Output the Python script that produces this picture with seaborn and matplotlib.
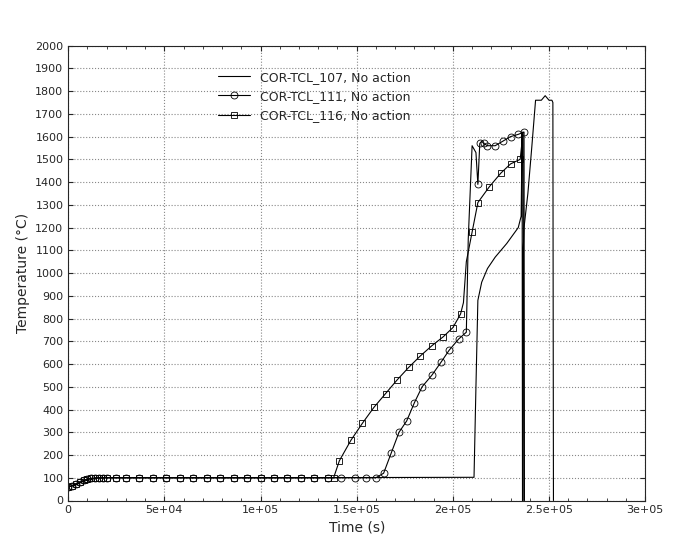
import numpy as np
import matplotlib
matplotlib.use("Agg")
import matplotlib.pyplot as plt
import seaborn as sns
from matplotlib.ticker import MultipleLocator

# COR-TCL_107 (no markers)
t107 = [0, 3000, 8000, 15000, 20000, 100000, 211000, 212000, 213000, 215000, 218000, 222000, 228000, 234000, 235500, 236000, 236200, 236400, 236600, 237000, 239000, 241000, 243000, 246000, 248000, 250000, 251500, 252000, 252300]
v107 = [60, 65, 85, 98, 100, 100, 102, 500, 880, 960, 1020, 1070, 1130, 1200, 1250, 1620, 0, 0, 1100, 1200, 1350, 1550, 1760, 1760, 1780, 1760, 1760, 1750, 0]

# COR-TCL_111 (circles)
t111 = [0, 2000, 4000, 6000, 8000, 10000, 12000, 14000, 16000, 18000, 20000, 25000, 30000, 37000, 44000, 51000, 58000, 65000, 72000, 79000, 86000, 93000, 100000, 107000, 114000, 121000, 128000, 135000, 142000, 149000, 155000, 160000, 164000, 168000, 172000, 176000, 180000, 184000, 189000, 194000, 198000, 203000, 207000, 208000, 210000, 212000, 213000, 214000, 215000, 216000, 218000, 222000, 226000, 230000, 234000, 237000, 237200]
v111 = [60, 65, 72, 80, 88, 94, 97, 99, 100, 100, 100, 100, 100, 100, 100, 100, 100, 100, 100, 100, 100, 100, 100, 100, 100, 100, 100, 100, 100, 100, 100, 100, 120, 210, 300, 350, 430, 500, 550, 610, 660, 710, 740, 1150, 1560, 1530, 1390, 1570, 1580, 1570, 1560, 1560, 1580, 1600, 1610, 1620, 0]
m111 = [i for i, t in enumerate(t111) if t not in (208000, 210000, 212000, 215000, 237200)]

# COR-TCL_116 (squares)
t116 = [0, 2000, 4000, 6000, 8000, 10000, 12000, 14000, 16000, 18000, 20000, 25000, 30000, 37000, 44000, 51000, 58000, 65000, 72000, 79000, 86000, 93000, 100000, 107000, 114000, 121000, 128000, 135000, 138000, 141000, 147000, 153000, 159000, 165000, 171000, 177000, 183000, 189000, 195000, 200000, 204000, 205500, 207000, 210000, 213000, 219000, 225000, 230000, 235000, 236500, 237000]
v116 = [60, 65, 72, 80, 88, 94, 97, 99, 100, 100, 100, 100, 100, 100, 100, 100, 100, 100, 100, 100, 100, 100, 100, 100, 100, 100, 100, 100, 100, 175, 265, 340, 410, 470, 530, 585, 635, 680, 720, 760, 820, 870, 1050, 1180, 1310, 1380, 1440, 1480, 1500, 1620, 0]
m116 = [i for i, t in enumerate(t116) if t not in (205500, 207000, 236500, 237000)]

sns.set_style("ticks")
fig, ax = plt.subplots(figsize=(6.96, 5.5), dpi=100)
fig.subplots_adjust(left=0.098, right=0.927, top=0.917, bottom=0.09)

sns.lineplot(x=t107, y=v107, ax=ax, color="black", lw=0.8, sort=False, estimator=None,
             label="COR-TCL_107, No action")
sns.lineplot(x=t111, y=v111, ax=ax, color="black", lw=0.8, sort=False, estimator=None,
             marker="o", markevery=m111, markersize=5, markerfacecolor="none",
             markeredgecolor="black", markeredgewidth=0.6, label="COR-TCL_111, No action")
sns.lineplot(x=t116, y=v116, ax=ax, color="black", lw=0.8, sort=False, estimator=None,
             marker="s", markevery=m116, markersize=4.5, markerfacecolor="none",
             markeredgecolor="black", markeredgewidth=0.6, label="COR-TCL_116, No action")

ax.set_xlim(0, 300000)
ax.set_ylim(0, 2000)
ax.yaxis.set_major_locator(MultipleLocator(100))
ax.xaxis.set_minor_locator(MultipleLocator(10000))
ax.set_xticks([0, 50000, 100000, 150000, 200000, 250000, 300000])
ax.set_xticklabels(["0", "5e+04", "1e+05", "1.5e+05", "2e+05", "2.5e+05", "3e+05"])
ax.tick_params(labelsize=8, direction="in", top=True, right=True)
ax.tick_params(which="minor", direction="in", top=True)
ax.grid(True, linestyle=":", color="#888888", lw=0.8)
ax.set_xlabel("Time (s)", fontsize=10)
ax.set_ylabel("Temperature (°C)", fontsize=10)
for s in ax.spines.values():
    s.set_linewidth(0.8)
leg = ax.legend(loc="upper left", bbox_to_anchor=(0.24, 0.97), frameon=False, fontsize=9,
                handlelength=2.6)
fig.savefig("out.png", dpi=100)
